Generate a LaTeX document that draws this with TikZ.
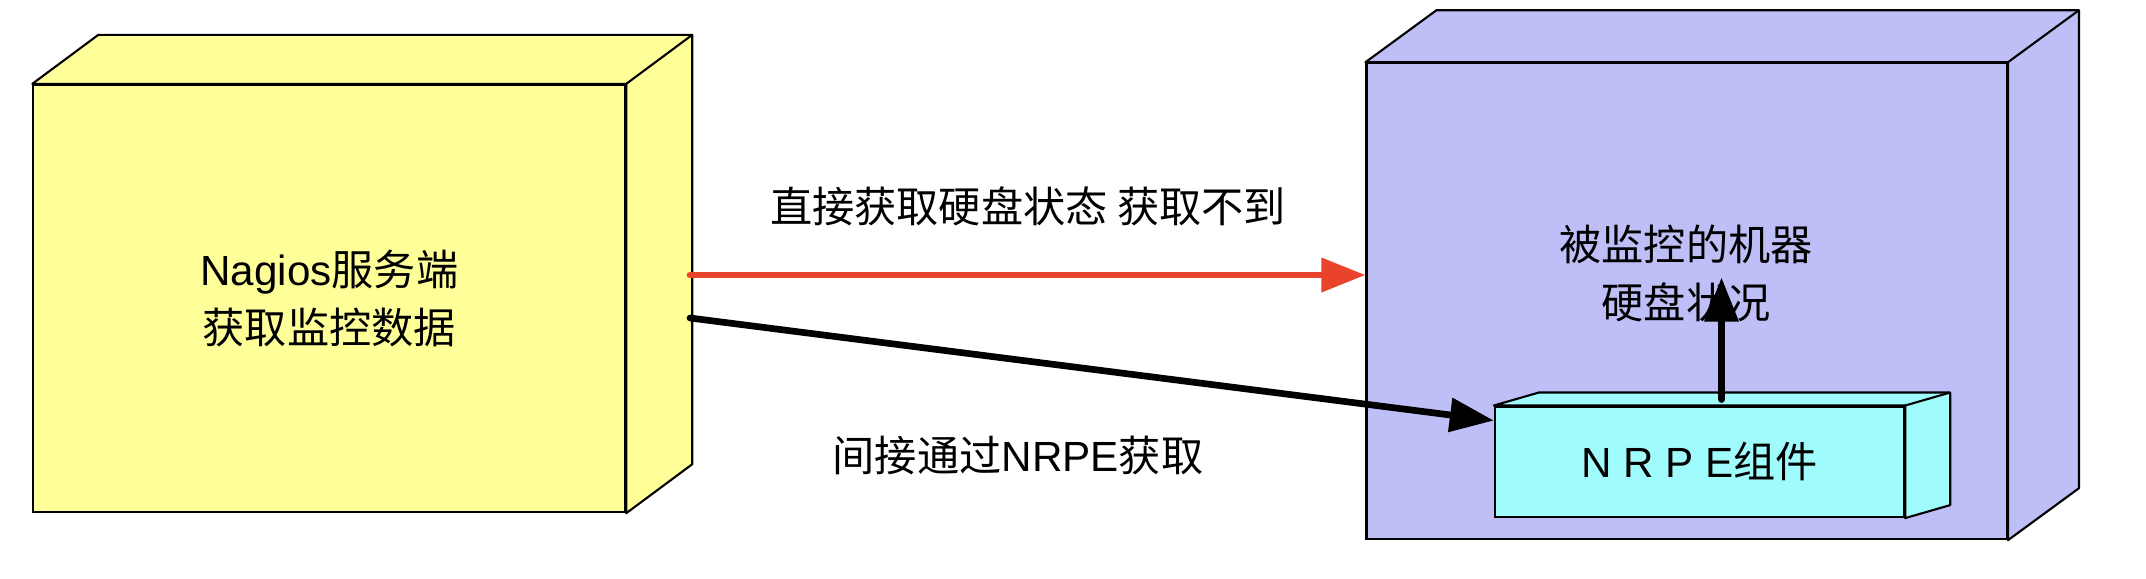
\documentclass[tikz,border=0pt]{standalone}
\usepackage{fontspec}
\setmainfont{Liberation Sans}
\newfontfamily\cjk{Noto Sans CJK SC}
\usetikzlibrary{arrows.meta, calc}

\definecolor{srvyellow}{RGB}{255,255,153}
\definecolor{hostblue}{RGB}{191,191,247}
\definecolor{nrpecyan}{RGB}{160,252,252}
\definecolor{arrowred}{RGB}{234,67,44}

\newcommand{\cn}[1]{{\cjk #1}}
% top and right faces of a box node
\newcommand{\boxdepth}[3]{%
  \filldraw[line width=0.6pt, fill=#3, line join=round]
    (#1.north west) -- ++(#2) -- ($(#1.north east)+(#2)$)
    -- ($(#1.south east)+(#2)$) -- (#1.south east) -- (#1.north east) -- cycle;
  \draw[line width=0.6pt] (#1.north east) -- ++(#2);}

\begin{document}
\begin{tikzpicture}[
    x=0.01cm, y=-0.01cm,
    txt/.style={font=\fontsize{12}{16.5}\selectfont, align=center, inner sep=0pt},
    face/.style={txt, draw, line width=0.6pt},
    link/.style={line width=1.9pt, line cap=round, -{Triangle[length=0.44cm, width=0.33cm]}}
]
    \useasboundingbox (0,0) rectangle (2146,578);

    % 1. Nagios server
    \node[face, fill=srvyellow, minimum width=5.915cm, minimum height=4.27cm]
        (server) at (329.3,298.5) {Nagios\cn{服务端}\\\cn{获取监控数据}};
    \boxdepth{server}{66,-49}{srvyellow}

    % 2. Monitored machine
    \node[face, fill=hostblue, minimum width=6.4cm, minimum height=4.756cm]
        (host) at (1686.7,301.2) {};
    \boxdepth{host}{71,-52}{hostblue}
    \node[txt] (hosttext) at (1686,273.5) {\cn{被监控的机器}\\\cn{硬盘状况}};

    % 3. NRPE component inside the machine
    \node[face, fill=nrpecyan, minimum width=4.09cm, minimum height=1.104cm]
        (nrpe) at (1699.5,461.8) {N R P E\cn{组件}};
    \boxdepth{nrpe}{45,-13}{nrpecyan}

    % 4. Arrows and labels
    \coordinate (direct) at (690,275);
    \coordinate (indirect) at (690,318);
    \draw[link, arrowred] (direct) -- (host.west |- direct);
    \draw[link] (indirect) -- ($(nrpe.north west)+(0,15)$);
    \draw[link] ($(nrpe.north)+(22,-6)$) -- ++(0,-122);

    \node[txt] (directlabel) at (1028,206.5) {\cn{直接获取硬盘状态 获取不到}};
    \node[txt] (indirectlabel) at (1018,455.5) {\cn{间接通过}NRPE\cn{获取}};

\end{tikzpicture}
\end{document}
